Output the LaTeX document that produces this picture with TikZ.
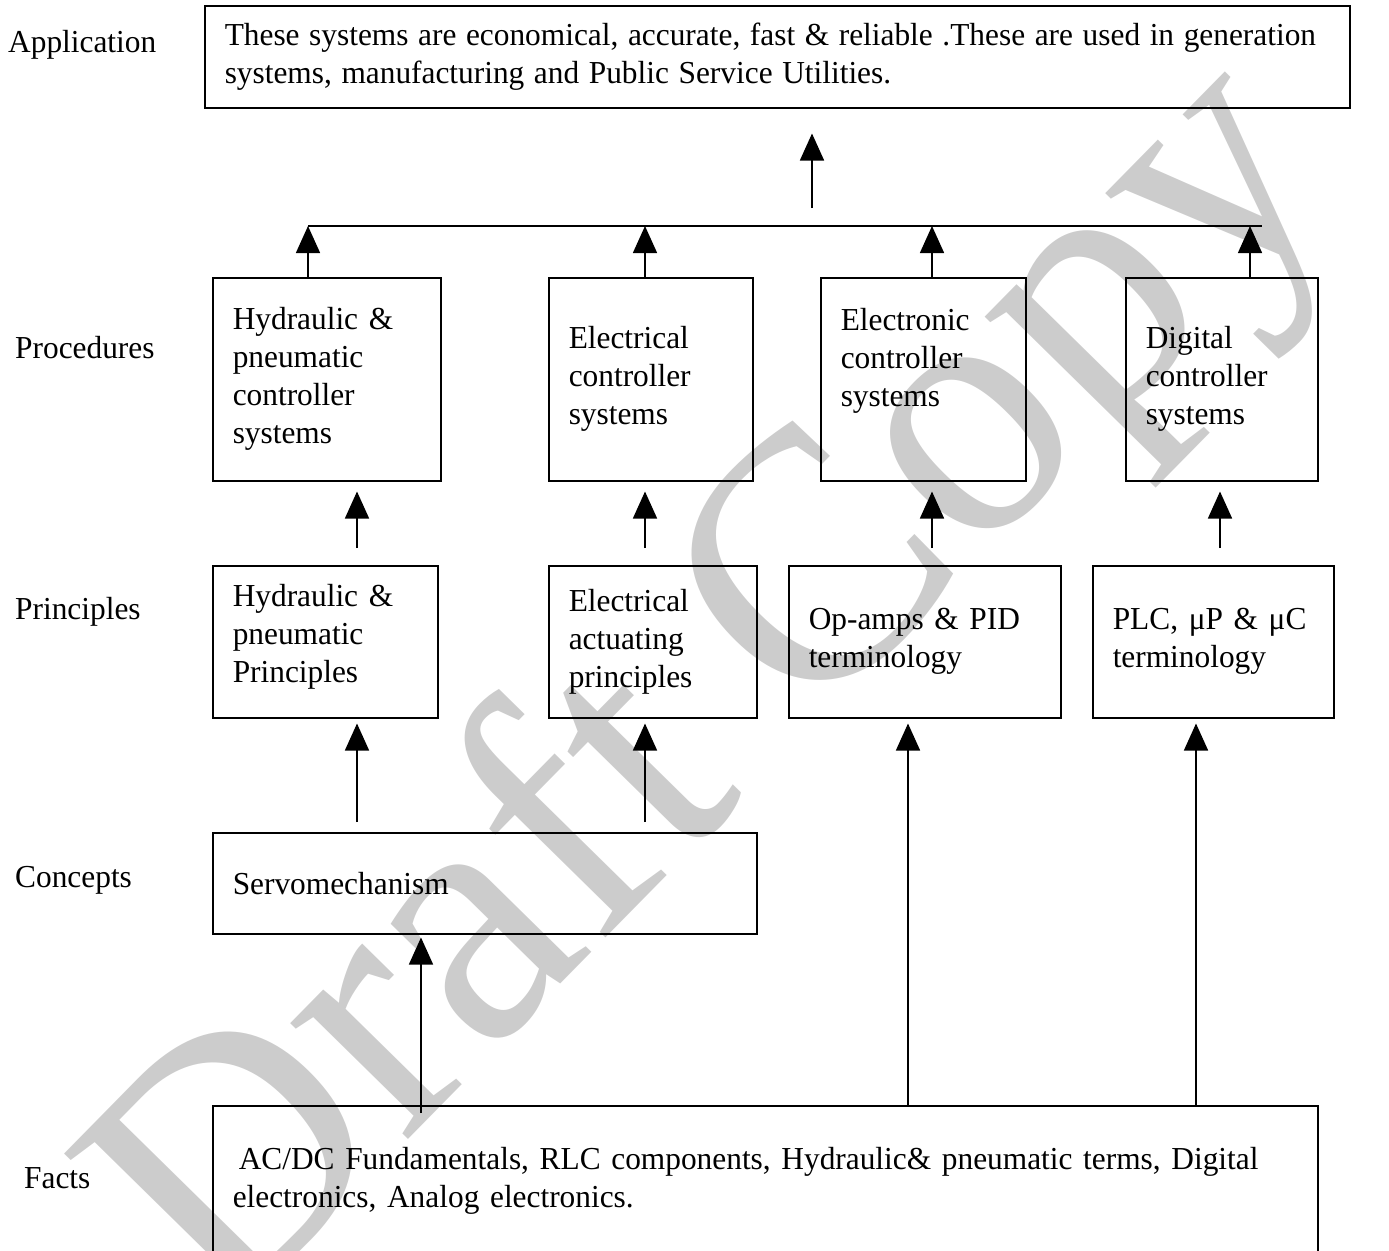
\documentclass[tikz,border=0pt]{standalone}
\usepackage{fontspec}
\setmainfont{Liberation Serif}[FakeStretch=0.98]
\usetikzlibrary{arrows.meta}

\begin{document}
\begin{tikzpicture}[x=1pt,y=-1pt,
  font=\fontsize{32}{38}\selectfont,
  lbl/.style={anchor=west,inner sep=0pt},
  levelbox/.style={draw,line width=1.5pt,anchor=north west,align=left,inner xsep=20pt,inner ysep=0pt},
  arr/.style={line width=1.5pt,-{Triangle[width=24pt,length=27pt]}},
  wmark/.style={text=black!20,font=\fontsize{360}{360}\selectfont,rotate=45.5,inner sep=0pt}]
\useasboundingbox (0,0) rectangle (1389,1250);
\node[wmark] (draft) at (722,695) {Draft Copy};

\node[lbl] (lapp) at (8,45) {Application};
\node[lbl] (lproc) at (15,348) {Procedures};
\node[lbl] (lprin) at (15,612) {Principles};
\node[lbl] (lconc) at (15,880) {Concepts};
\node[lbl] (lfact) at (24,1178) {Facts};

\node[levelbox,text width=1105pt,minimum height=102pt] (app) at (204,5)
  {\spaceskip=9.6pt\relax\mbox{These systems are economical, accurate, fast \& reliable .These are used in generation}\\systems, manufacturing and Public Service Utilities.};

\node[levelbox,text width=188pt,minimum height=203pt] (p1) at (212,277) {Hydraulic \&\\pneumatic\\controller\\systems};
\node[levelbox,text width=164pt,minimum height=203pt] (p2) at (548,277) {Electrical\\controller\\systems};
\node[levelbox,text width=165pt,minimum height=203pt] (p3) at (820,277) {Electronic\\controller\\systems\\[6pt]\mbox{}};
\node[levelbox,text width=152pt,minimum height=203pt] (p4) at (1125,277) {Digital\\controller\\systems};

\node[levelbox,text width=185pt,minimum height=152pt] (q1) at (212,565) {Hydraulic \&\\pneumatic\\Principles\\[-22pt]\mbox{}};
\node[levelbox,text width=168pt,minimum height=152pt] (q2) at (548,565) {Electrical\\actuating\\principles};
\node[levelbox,text width=232pt,minimum height=152pt] (q3) at (788,565) {Op-amps \& PID\\terminology};
\node[levelbox,text width=201pt,minimum height=152pt] (q4) at (1092,565) {PLC, μP \& μC\\terminology};

\node[levelbox,text width=504pt,minimum height=101pt] (serv) at (212,832) {Servomechanism};

\node[levelbox,text width=1065pt,minimum height=150pt] (facts) at (212,1105)
  {\mbox{\hspace{6pt}AC/DC Fundamentals, RLC components, Hydraulic\& pneumatic terms, Digital}\\electronics, Analog electronics.};

\coordinate (busL) at (308,226);
\coordinate (busR) at (1262,226);
\draw[line width=1.5pt] (busL) -- (busR);
\foreach \x/\n in {308/p1,645/p2,932/p3,1250/p4}
  \draw[arr] (\x,0 |- \n.north) -- (\x,0 |- busL);
\draw[arr,shorten <=18pt,shorten >=25pt] (812,0 |- busL) -- (812,0 |- app.south);

\foreach \x/\a/\b in {357/q1/p1,645/q2/p2,932/q3/p3,1220/q4/p4}
  \draw[arr,shorten <=17pt,shorten >=10pt] (\x,0 |- \a.north) -- (\x,0 |- \b.south);
\foreach \x/\a in {357/q1,645/q2}
  \draw[arr,shorten <=10pt,shorten >=5pt] (\x,0 |- serv.north) -- (\x,0 |- \a.south);

\draw[arr,shorten <=-8pt,shorten >=3pt] (421,0 |- facts.north) -- (421,0 |- serv.south);
\foreach \x/\a in {908/q3,1196/q4}
  \draw[arr,shorten >=5pt] (\x,0 |- facts.north) -- (\x,0 |- \a.south);
\end{tikzpicture}
\end{document}
